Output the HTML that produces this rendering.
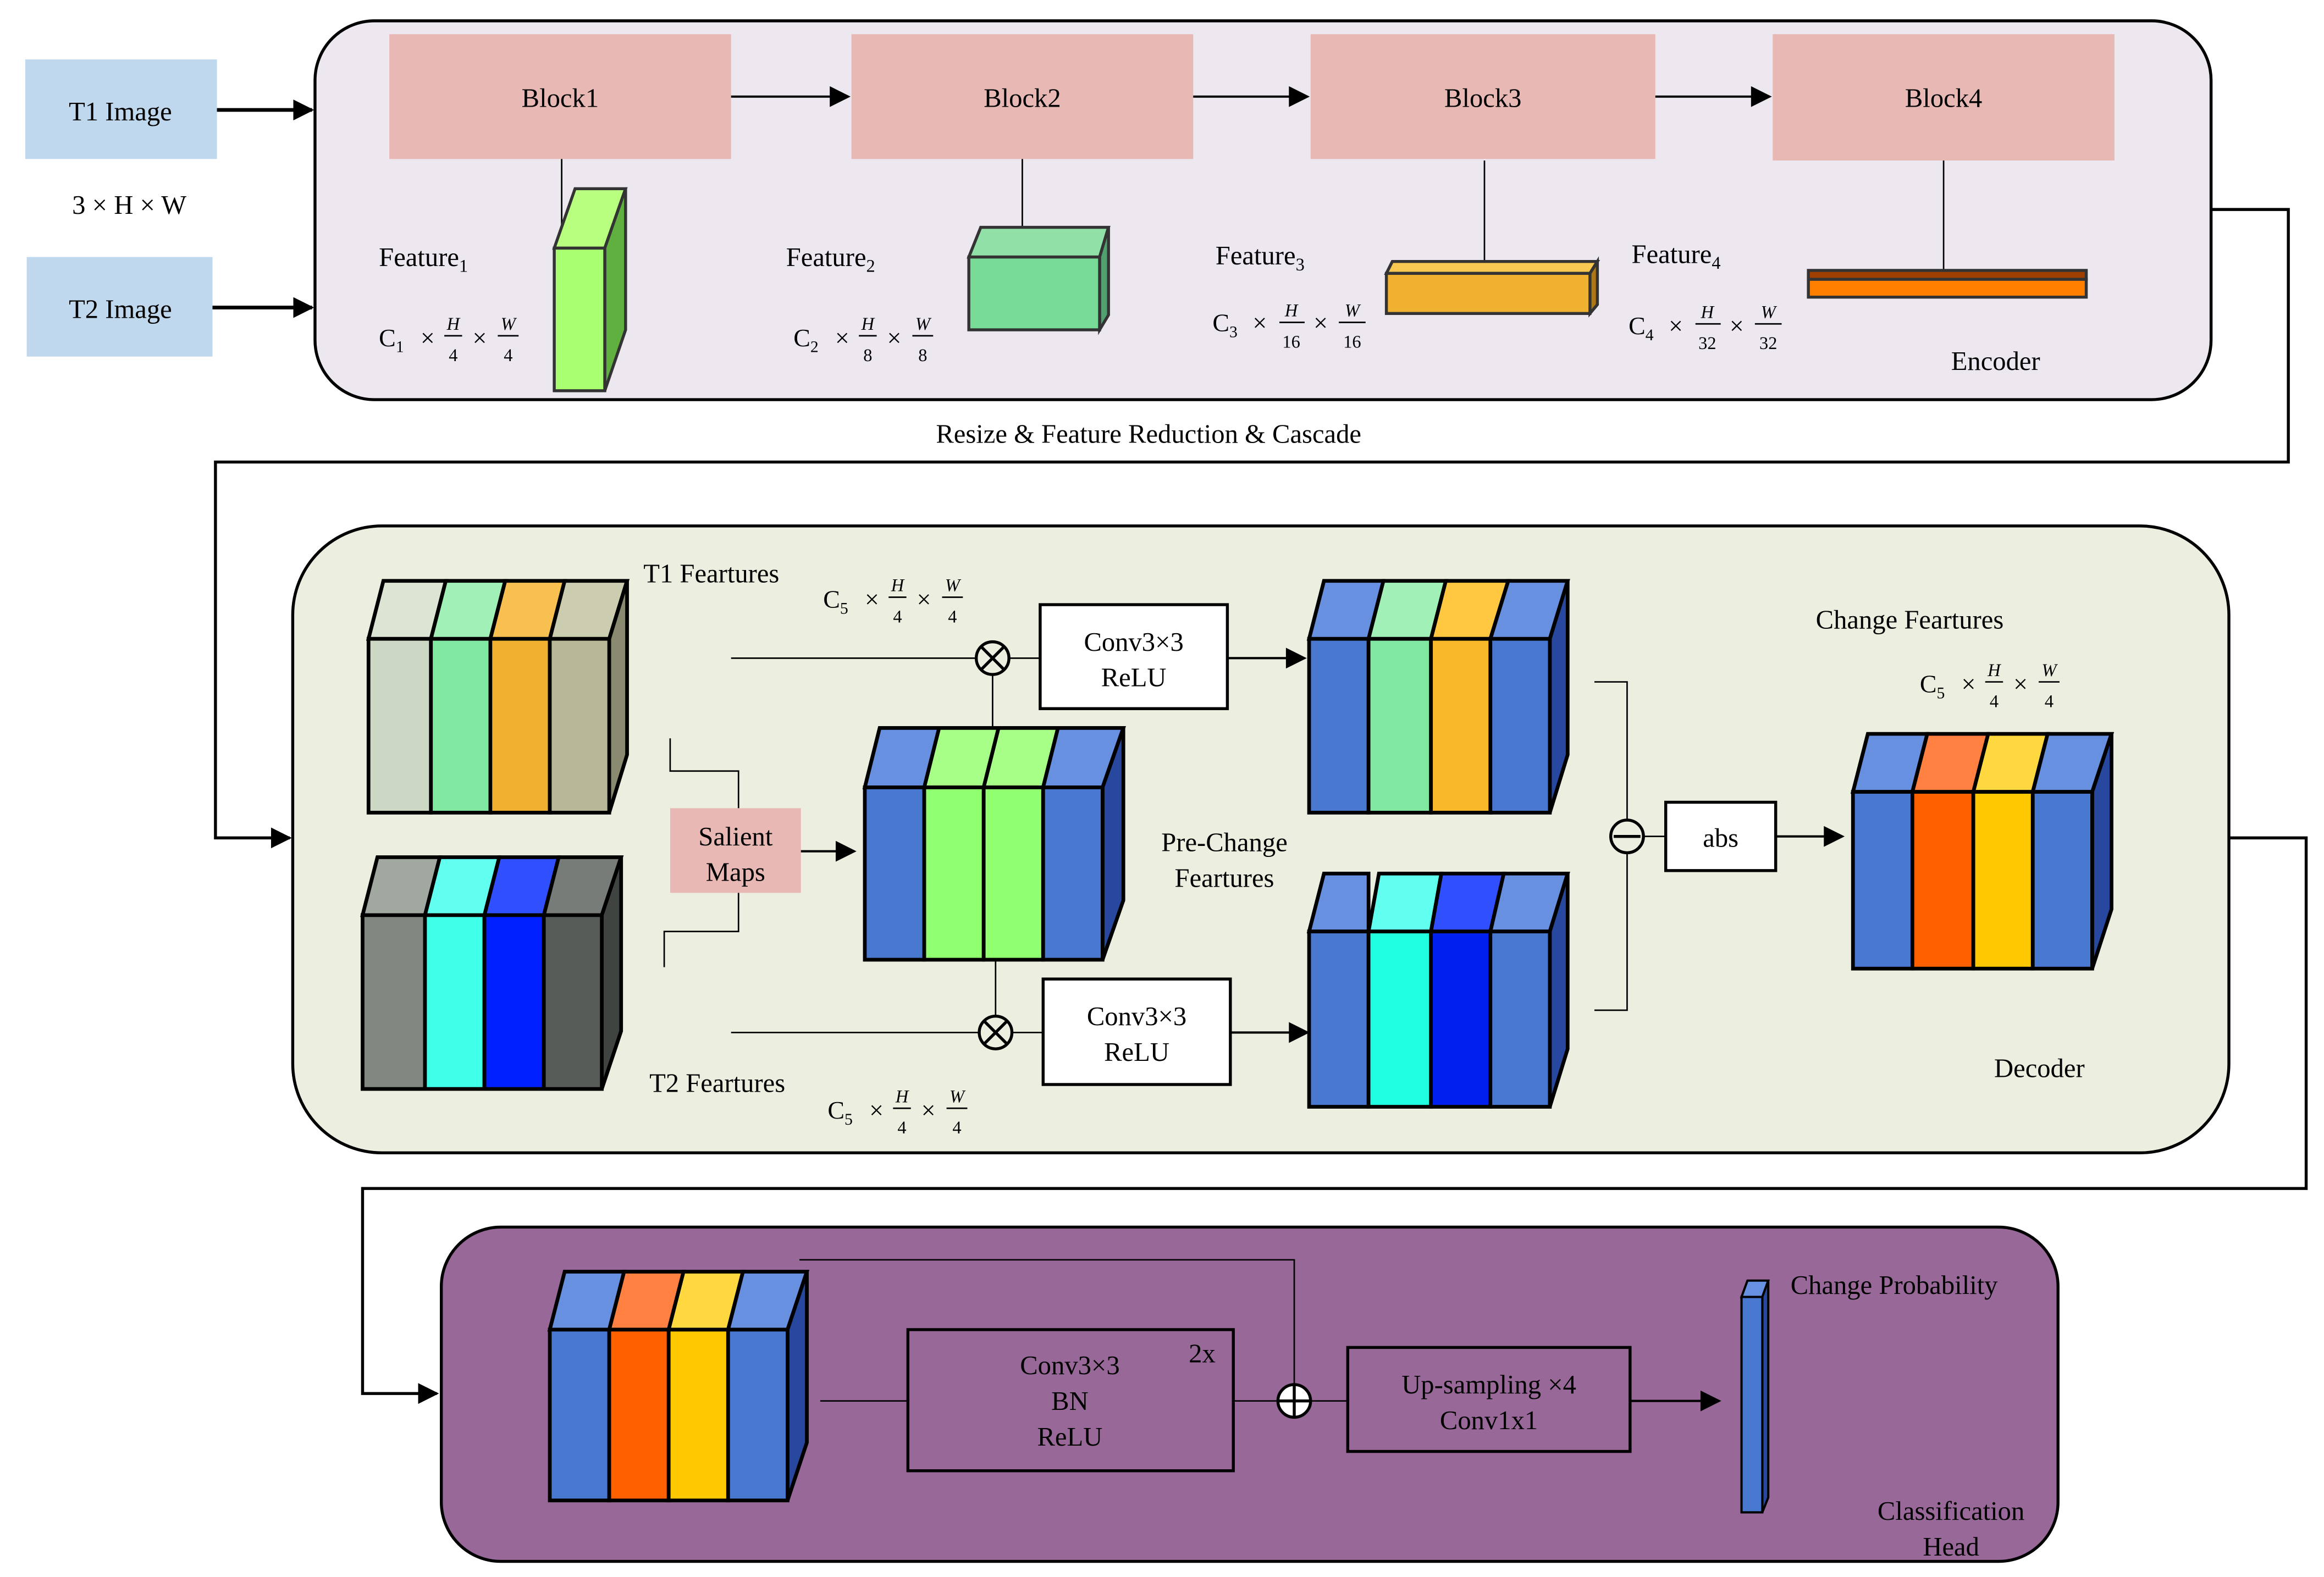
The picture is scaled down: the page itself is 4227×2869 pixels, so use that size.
<!DOCTYPE html>
<html><head><meta charset="utf-8"><style>html,body{margin:0;padding:0;background:#fff}svg{display:block}</style></head>
<body>
<svg xmlns="http://www.w3.org/2000/svg" width="4227" height="2869" viewBox="0 0 1564 1061.5" font-family="Liberation Serif, serif" font-size="18">
<defs>
<marker id="b" viewBox="0 0 10 10" refX="9" refY="5" markerWidth="16" markerHeight="14" orient="auto" markerUnits="userSpaceOnUse"><path d="M0,0L10,5L0,10z"/></marker>
</defs>
<rect width="1564" height="1062" fill="#fff"/>
<!-- Encoder -->
<rect x="212" y="14" width="1276" height="255" rx="40" fill="#ede8f0" stroke="#000" stroke-width="2"/>
<rect x="17" y="40" width="129" height="67" fill="#bfd8ee"/>
<text x="81" y="81" text-anchor="middle">T1 Image</text>
<rect x="18" y="173" width="125" height="67" fill="#bfd8ee"/>
<text x="81" y="214" text-anchor="middle">T2 Image</text>
<text x="87" y="144" text-anchor="middle">3 × H × W</text>
<g stroke="#000" stroke-width="2.5" marker-end="url(#b)"><line x1="146" y1="74" x2="210" y2="74"/><line x1="143" y1="207" x2="210" y2="207"/></g>
<g fill="#e8b8b4">
<rect x="262" y="23" width="230" height="84"/><rect x="573" y="23" width="230" height="84"/><rect x="882" y="23" width="232" height="84"/><rect x="1193" y="23" width="230" height="85"/></g>
<g text-anchor="middle"><text x="377" y="72">Block1</text><text x="688" y="72">Block2</text><text x="998" y="72">Block3</text><text x="1308" y="72">Block4</text></g>
<g stroke="#000" stroke-width="1.5" marker-end="url(#b)"><line x1="492" y1="65" x2="571" y2="65"/><line x1="803" y1="65" x2="880" y2="65"/><line x1="1114" y1="65" x2="1191" y2="65"/></g>
<g stroke="#000" stroke-width="1"><line x1="378" y1="107" x2="378" y2="160"/><line x1="688" y1="107" x2="688" y2="160"/><line x1="999" y1="108" x2="999" y2="185"/><line x1="1308" y1="108" x2="1308" y2="184"/></g>
<g stroke="#333" stroke-width="2">
<polygon points="373,167 387,127 421,127 407,167" fill="#b8ff80"/><polygon points="407,167 421,127 421,222 407,263" fill="#60b040"/><rect x="373" y="167" width="34" height="96" fill="#a8ff70"/>
<polygon points="652,173 660,153 746,153 740,173" fill="#90e0a8"/><polygon points="740,173 746,153 746,212 740,222" fill="#50a070"/><rect x="652" y="173" width="88" height="49" fill="#78dc98"/>
<polygon points="933,184 937,176 1075,176 1070,184" fill="#f8c850"/><polygon points="1070,184 1075,176 1075,205 1070,211" fill="#b07810"/><rect x="933" y="184" width="137" height="27" fill="#f0b030"/>
<rect x="1217" y="182" width="187" height="6" fill="#a04000"/><rect x="1217" y="188" width="187" height="12" fill="#ff8000"/>
</g>
<text x="255" y="179">Feature<tspan font-size="12" dy="4">1</tspan></text>
<text x="529" y="179">Feature<tspan font-size="12" dy="4">2</tspan></text>
<text x="818" y="178">Feature<tspan font-size="12" dy="4">3</tspan></text>
<text x="1098" y="177">Feature<tspan font-size="12" dy="4">4</tspan></text>
<g font-size="17">
<!-- F1 -->
<text x="255" y="233">C<tspan font-size="11" dy="4">1</tspan></text><text x="283" y="233">×</text><text x="318" y="233">×</text>
<text x="305" y="222" font-size="12" font-style="italic" text-anchor="middle">H</text><line x1="299" y1="226" x2="311" y2="226" stroke="#000"/><text x="305" y="243" font-size="12" text-anchor="middle">4</text>
<text x="342" y="222" font-size="12" font-style="italic" text-anchor="middle">W</text><line x1="335" y1="226" x2="349" y2="226" stroke="#000"/><text x="342" y="243" font-size="12" text-anchor="middle">4</text>
<!-- F2 -->
<text x="534" y="233">C<tspan font-size="11" dy="4">2</tspan></text><text x="562" y="233">×</text><text x="597" y="233">×</text>
<text x="584" y="222" font-size="12" font-style="italic" text-anchor="middle">H</text><line x1="578" y1="226" x2="590" y2="226" stroke="#000"/><text x="584" y="243" font-size="12" text-anchor="middle">8</text>
<text x="621" y="222" font-size="12" font-style="italic" text-anchor="middle">W</text><line x1="614" y1="226" x2="628" y2="226" stroke="#000"/><text x="621" y="243" font-size="12" text-anchor="middle">8</text>
<!-- F3 -->
<text x="816" y="223">C<tspan font-size="11" dy="4">3</tspan></text><text x="843" y="223">×</text><text x="884" y="223">×</text>
<text x="869" y="213" font-size="12" font-style="italic" text-anchor="middle">H</text><line x1="861" y1="217" x2="878" y2="217" stroke="#000"/><text x="869" y="234" font-size="12" text-anchor="middle">16</text>
<text x="910" y="213" font-size="12" font-style="italic" text-anchor="middle">W</text><line x1="901" y1="217" x2="919" y2="217" stroke="#000"/><text x="910" y="234" font-size="12" text-anchor="middle">16</text>
<!-- F4 -->
<text x="1096" y="225">C<tspan font-size="11" dy="4">4</tspan></text><text x="1123" y="225">×</text><text x="1164" y="225">×</text>
<text x="1149" y="214" font-size="12" font-style="italic" text-anchor="middle">H</text><line x1="1141" y1="218" x2="1158" y2="218" stroke="#000"/><text x="1149" y="235" font-size="12" text-anchor="middle">32</text>
<text x="1190" y="214" font-size="12" font-style="italic" text-anchor="middle">W</text><line x1="1181" y1="218" x2="1199" y2="218" stroke="#000"/><text x="1190" y="235" font-size="12" text-anchor="middle">32</text>
</g>
<text x="1343" y="249" text-anchor="middle">Encoder</text>
<text x="773" y="298" text-anchor="middle">Resize &amp; Feature Reduction &amp; Cascade</text>
<polyline points="1488,141 1540,141 1540,311 145,311 145,564 195,564" fill="none" stroke="#000" stroke-width="2" marker-end="url(#b)"/>
<!-- Decoder -->
<rect x="197" y="354" width="1303" height="422" rx="60" fill="#ecefe0" stroke="#000" stroke-width="2"/>
<g stroke="#000" stroke-width="2.5">
<polygon points="248,430 258,391 300,391 290,430" fill="#dce4d4"/><polygon points="290,430 300,391 340,391 330,430" fill="#a0f0b8"/><polygon points="330,430 340,391 380,391 370,430" fill="#f8c050"/><polygon points="370,430 380,391 422,391 410,430" fill="#ccccb0"/>
<polygon points="410,430 422,391 422,508 410,547" fill="#8a8a70"/>
<rect x="248" y="430" width="42" height="117" fill="#ccd8c4"/><rect x="290" y="430" width="40" height="117" fill="#80e8a0"/><rect x="330" y="430" width="40" height="117" fill="#f0b030"/><rect x="370" y="430" width="40" height="117" fill="#b8b898"/>
<polygon points="244,616 254,577 296,577 286,616" fill="#a0a8a0"/><polygon points="286,616 296,577 336,577 326,616" fill="#60fff0"/><polygon points="326,616 336,577 376,577 366,616" fill="#3050ff"/><polygon points="366,616 376,577 418,577 405,616" fill="#787c78"/>
<polygon points="405,616 418,577 418,694 405,733" fill="#404440"/>
<rect x="244" y="616" width="42" height="117" fill="#808880"/><rect x="286" y="616" width="40" height="117" fill="#40ffe8"/><rect x="326" y="616" width="40" height="117" fill="#0020ff"/><rect x="366" y="616" width="39" height="117" fill="#585c58"/>
<polygon points="582,530 592,490 632,490 622,530" fill="#6890e0"/><polygon points="622,530 632,490 672,490 662,530" fill="#a8ff88"/><polygon points="662,530 672,490 712,490 702,530" fill="#a8ff88"/><polygon points="702,530 712,490 756,490 742,530" fill="#6890e0"/>
<polygon points="742,530 756,490 756,606 742,646" fill="#2848a0"/>
<rect x="582" y="530" width="40" height="116" fill="#4878d0"/><rect x="622" y="530" width="40" height="116" fill="#90ff70"/><rect x="662" y="530" width="40" height="116" fill="#90ff70"/><rect x="702" y="530" width="40" height="116" fill="#4878d0"/>
<polygon points="881,430 891,391 931,391 921,430" fill="#6890e0"/><polygon points="921,430 931,391 973,391 963,430" fill="#a0f0b8"/><polygon points="963,430 973,391 1015,391 1003,430" fill="#ffc840"/><polygon points="1003,430 1015,391 1055,391 1043,430" fill="#6890e0"/>
<polygon points="1043,430 1055,391 1055,508 1043,547" fill="#2848a0"/>
<rect x="881" y="430" width="40" height="117" fill="#4878d0"/><rect x="921" y="430" width="42" height="117" fill="#80e8a0"/><rect x="963" y="430" width="40" height="117" fill="#f8b828"/><rect x="1003" y="430" width="40" height="117" fill="#4878d0"/>
<polygon points="881,627 891,588 921,588 921,627" fill="#6890e0"/><polygon points="921,627 928,588 970,588 963,627" fill="#60fff0"/><polygon points="963,627 970,588 1012,588 1003,627" fill="#3050ff"/><polygon points="1003,627 1012,588 1055,588 1043,627" fill="#6890e0"/>
<polygon points="1043,627 1055,588 1055,706 1043,745" fill="#2848a0"/>
<rect x="881" y="627" width="40" height="118" fill="#4878d0"/><rect x="921" y="627" width="42" height="118" fill="#20ffe0"/><rect x="963" y="627" width="40" height="118" fill="#0020f0"/><rect x="1003" y="627" width="40" height="118" fill="#4878d0"/>
<polygon points="1247,533 1257,494 1297,494 1287,533" fill="#6890e0"/><polygon points="1287,533 1297,494 1338,494 1328,533" fill="#ff8040"/><polygon points="1328,533 1338,494 1378,494 1368,533" fill="#ffd840"/><polygon points="1368,533 1378,494 1421,494 1408,533" fill="#6890e0"/>
<polygon points="1408,533 1421,494 1421,612 1408,652" fill="#2848a0"/>
<rect x="1247" y="533" width="40" height="119" fill="#4878d0"/><rect x="1287" y="533" width="41" height="119" fill="#ff6000"/><rect x="1328" y="533" width="40" height="119" fill="#ffc800"/><rect x="1368" y="533" width="40" height="119" fill="#4878d0"/>
</g>
<rect x="451" y="544" width="88" height="57" fill="#e8b8b4"/>
<text x="495" y="569" text-anchor="middle">Salient</text><text x="495" y="593" text-anchor="middle">Maps</text>
<g fill="none" stroke="#000" stroke-width="1">
<polyline points="451,497 451,519 497,519 497,544"/><polyline points="497,601 497,627 447,627 447,651"/>
<line x1="492" y1="443" x2="657" y2="443"/><line x1="668" y1="454" x2="668" y2="490"/><line x1="679" y1="443" x2="700" y2="443"/>
<line x1="492" y1="695" x2="659" y2="695"/><line x1="670" y1="646" x2="670" y2="684"/><line x1="681" y1="695" x2="702" y2="695"/>
<polyline points="1073,459 1095,459 1095,680 1073,680"/><line x1="1106" y1="563" x2="1121" y2="563"/>
<circle cx="668" cy="443" r="11" stroke-width="2"/><path d="M660,435L676,451M676,435L660,451" stroke-width="2"/>
<circle cx="670" cy="695" r="11" stroke-width="2"/><path d="M662,687L678,703M678,687L662,703" stroke-width="2"/>
<circle cx="1095" cy="563" r="11" stroke-width="2" fill="#ecefe0"/><path d="M1086,563L1104,563" stroke-width="2"/>
</g>
<g stroke="#000" stroke-width="1.5" marker-end="url(#b)"><line x1="539" y1="573" x2="575" y2="573"/><line x1="826" y1="443" x2="878" y2="443"/><line x1="828" y1="695" x2="880" y2="695"/><line x1="1195" y1="563" x2="1240" y2="563"/></g>
<g fill="#fff" stroke="#000" stroke-width="2"><rect x="700" y="407" width="126" height="70"/><rect x="702" y="659" width="126" height="71"/><rect x="1121" y="540" width="74" height="46"/></g>
<g text-anchor="middle"><text x="763" y="438">Conv3×3</text><text x="763" y="462">ReLU</text><text x="765" y="690">Conv3×3</text><text x="765" y="714">ReLU</text><text x="1158" y="570">abs</text>
<text x="824" y="573">Pre-Change</text><text x="824" y="597">Feartures</text></g>
<text x="433" y="392">T1 Feartures</text><text x="437" y="735">T2 Feartures</text>
<text x="1222" y="423">Change Feartures</text><text x="1342" y="725">Decoder</text>
<g font-size="17">
<text x="554" y="409">C<tspan font-size="11" dy="4">5</tspan></text><text x="582" y="409">×</text><text x="617" y="409">×</text>
<text x="604" y="398" font-size="12" font-style="italic" text-anchor="middle">H</text><line x1="598" y1="402" x2="610" y2="402" stroke="#000"/><text x="604" y="419" font-size="12" text-anchor="middle">4</text>
<text x="641" y="398" font-size="12" font-style="italic" text-anchor="middle">W</text><line x1="634" y1="402" x2="648" y2="402" stroke="#000"/><text x="641" y="419" font-size="12" text-anchor="middle">4</text>
<text x="557" y="753">C<tspan font-size="11" dy="4">5</tspan></text><text x="585" y="753">×</text><text x="620" y="753">×</text>
<text x="607" y="742" font-size="12" font-style="italic" text-anchor="middle">H</text><line x1="601" y1="746" x2="613" y2="746" stroke="#000"/><text x="607" y="763" font-size="12" text-anchor="middle">4</text>
<text x="644" y="742" font-size="12" font-style="italic" text-anchor="middle">W</text><line x1="637" y1="746" x2="651" y2="746" stroke="#000"/><text x="644" y="763" font-size="12" text-anchor="middle">4</text>
<text x="1292" y="466">C<tspan font-size="11" dy="4">5</tspan></text><text x="1320" y="466">×</text><text x="1355" y="466">×</text>
<text x="1342" y="455" font-size="12" font-style="italic" text-anchor="middle">H</text><line x1="1336" y1="459" x2="1348" y2="459" stroke="#000"/><text x="1342" y="476" font-size="12" text-anchor="middle">4</text>
<text x="1379" y="455" font-size="12" font-style="italic" text-anchor="middle">W</text><line x1="1372" y1="459" x2="1386" y2="459" stroke="#000"/><text x="1379" y="476" font-size="12" text-anchor="middle">4</text>
<text x="1239" y="920">2</text><text x="1256" y="920">×</text><text x="1293" y="920">×</text>
<text x="1280" y="908" font-size="12" font-style="italic" text-anchor="middle">H</text><line x1="1274" y1="912" x2="1286" y2="912" stroke="#000"/><text x="1280" y="929" font-size="12" text-anchor="middle">4</text>
<text x="1317" y="908" font-size="12" font-style="italic" text-anchor="middle">W</text><line x1="1310" y1="912" x2="1324" y2="912" stroke="#000"/><text x="1317" y="929" font-size="12" text-anchor="middle">4</text>
</g>
<polyline points="1500,564 1552,564 1552,800 244,800 244,938 294,938" fill="none" stroke="#000" stroke-width="2" marker-end="url(#b)"/>
<!-- Classification -->
<rect x="297" y="826" width="1088" height="225" rx="40" fill="#986898" stroke="#000" stroke-width="2"/>
<g stroke="#000" stroke-width="2.5">
<polygon points="370,895 380,856 420,856 410,895" fill="#6890e0"/><polygon points="410,895 420,856 460,856 450,895" fill="#ff8040"/><polygon points="450,895 460,856 500,856 490,895" fill="#ffd840"/><polygon points="490,895 500,856 543,856 530,895" fill="#6890e0"/>
<polygon points="530,895 543,856 543,971 530,1010" fill="#2848a0"/>
<rect x="370" y="895" width="40" height="115" fill="#4878d0"/><rect x="410" y="895" width="40" height="115" fill="#ff6000"/><rect x="450" y="895" width="40" height="115" fill="#ffc800"/><rect x="490" y="895" width="40" height="115" fill="#4878d0"/>
<polygon points="1172,873 1176,862 1190,862 1186,873" fill="#6890e0" stroke-width="1.5"/><polygon points="1186,873 1190,862 1190,1008 1186,1018" fill="#2848a0" stroke-width="1.5"/><rect x="1172" y="873" width="14" height="145" fill="#4878d0" stroke-width="1.5"/>
</g>
<g fill="none" stroke="#000" stroke-width="1">
<polyline points="538,848 871,848 871,932"/><line x1="552" y1="943" x2="611" y2="943"/><line x1="830" y1="943" x2="860" y2="943"/><line x1="882" y1="943" x2="907" y2="943"/>
<circle cx="871" cy="943" r="11" stroke-width="2" fill="#fff"/><path d="M860,943H882M871,932V954" stroke-width="2"/>
<rect x="611" y="895" width="219" height="95" stroke-width="2"/><rect x="907" y="907" width="190" height="70" stroke-width="2"/>
</g>
<line x1="1097" y1="943" x2="1157" y2="943" stroke="#000" stroke-width="1.5" marker-end="url(#b)"/>
<g text-anchor="middle"><text x="720" y="925">Conv3×3</text><text x="720" y="949">BN</text><text x="720" y="973">ReLU</text><text x="1002" y="938">Up-sampling ×4</text><text x="1002" y="962">Conv1x1</text>
<text x="1313" y="1023">Classification</text><text x="1313" y="1047">Head</text></g>
<text x="800" y="917">2x</text>
<text x="1205" y="871">Change Probability</text>
</svg>
</body></html>
